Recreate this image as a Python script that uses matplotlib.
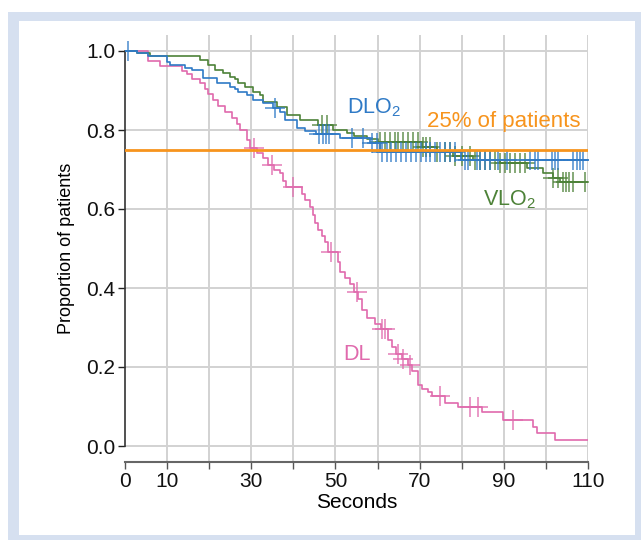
import numpy as np
import matplotlib
matplotlib.use("Agg")
import matplotlib.pyplot as plt
from matplotlib.patches import Rectangle

plt.rcParams['font.family'] = ['Liberation Sans', 'DejaVu Sans']
plt.rcParams['mathtext.default'] = 'regular'

# ---------------- data ----------------
# DL : step times (s) and proportion after each step
dl_t = [5.5, 8.3, 13.5, 14.7, 15.9, 17.8, 19.0, 19.7, 20.9, 22.1, 23.8, 25.4, 26.6, 27.3,
        29.0, 29.8, 31.4, 32.8, 34.0, 35.5, 36.8, 37.6, 38.2, 42.0, 42.8, 44.0, 44.7, 45.1,
        45.9, 46.8, 47.5, 48.2, 50.6, 51.1, 52.3, 53.4, 54.3, 55.4, 56.3, 57.5, 59.5, 60.8,
        62.5, 63.4, 64.3, 65.8, 67.3, 68.2, 69.6, 70.6, 72.0, 72.9, 76.0, 79.1, 84.8, 89.8,
        96.9, 97.9, 102.2]
dl_s = [0.975, 0.962, 0.95, 0.942, 0.93, 0.918, 0.905, 0.89, 0.875, 0.862, 0.845, 0.83, 0.815, 0.80,
        0.775, 0.755, 0.742, 0.728, 0.712, 0.70, 0.69, 0.672, 0.655, 0.638, 0.622, 0.604, 0.585, 0.565,
        0.548, 0.532, 0.516, 0.49, 0.465, 0.44, 0.425, 0.41, 0.39, 0.372, 0.345, 0.325, 0.31, 0.295,
        0.268, 0.25, 0.232, 0.22, 0.205, 0.19, 0.155, 0.145, 0.137, 0.126, 0.11, 0.10, 0.086, 0.066,
        0.048, 0.033, 0.015]
dl_cens = [30.7, 35.0, 40.0, 49.0, 55.0, 61.0, 61.8, 64.9, 66.0, 67.7, 74.8, 82.0, 83.9, 92.2]

# DLO2
dlo_t = [2.85, 5.5, 10.0, 10.7, 14.3, 15.9, 18.5, 21.9, 24.9, 26.1, 26.8, 29.0, 30.4, 32.8,
         35.2, 36.8, 38.0, 40.9, 42.8, 45.4, 51.0, 58.2, 60.6, 79.8]
dlo_s = [0.995, 0.987, 0.972, 0.965, 0.958, 0.952, 0.932, 0.92, 0.91, 0.903, 0.896, 0.889, 0.876, 0.868,
         0.856, 0.846, 0.825, 0.806, 0.798, 0.79, 0.78, 0.767, 0.745, 0.725]
dlo_cens = [0.7, 35.6, 46.0, 47.0, 47.8, 48.5, 54.0, 56.5, 58.7, 59.9, 61.0, 62.2, 63.3, 64.5,
            65.6, 66.8, 68.0, 69.2, 70.3, 71.4, 72.5, 73.7, 74.8, 76.0, 77.2, 78.4, 80.8, 81.6,
            83.6, 84.3, 85.5, 86.7, 88.6, 90.8, 96.2, 97.4, 98.1, 101.4, 102.2, 102.9, 106.4,
            107.4, 108.1, 108.8]

# VLO2
vlo_t = [2.85, 5.9, 17.8, 19.7, 21.4, 23.3, 24.9, 26.1, 26.8, 28.5, 30.4, 32.1, 32.8, 36.1,
         38.5, 41.6, 45.9, 49.4, 52.7, 54.5, 57.5, 60.0, 70.6, 74.1, 78.0, 82.7, 89.1, 95.5,
         99.3, 101.7, 103.3]
vlo_s = [0.995, 0.987, 0.977, 0.965, 0.952, 0.944, 0.934, 0.929, 0.918, 0.909, 0.896, 0.889, 0.871, 0.858,
         0.838, 0.825, 0.813, 0.80, 0.792, 0.785, 0.777, 0.77, 0.757, 0.744, 0.735, 0.724, 0.716, 0.704,
         0.69, 0.678, 0.668]
vlo_cens = [46.8, 48.0, 60.6, 61.8, 63.0, 64.1, 64.9, 66.0, 67.2, 68.4, 69.5, 70.8, 71.6, 72.5,
            74.1, 76.0, 77.2, 78.4, 80.1, 82.0, 83.2, 84.3, 85.5, 86.7, 87.9, 89.1, 90.3, 91.5,
            92.7, 93.8, 95.0, 101.7, 102.9, 104.0, 104.8, 105.5, 106.4, 109.2]

x_ticks = [0, 10, 20, 30, 40, 50, 60, 70, 80, 90, 100, 110]
x_labels = ['0', '10', '', '30', '', '50', '', '70', '', '90', '', '110']
y_ticks = [0.0, 0.2, 0.4, 0.6, 0.8, 1.0]
threshold = 0.75

c_dl = '#e06aad'
c_dlo = '#2f7ac6'
c_vlo = '#4d8238'
c_or = '#f7941d'

# ---------------- figure ----------------
fig = plt.figure(figsize=(6.41, 5.40), dpi=100)
fig.patches.append(Rectangle((8 / 641, 0), 1 - 8 / 641, 1 - 12 / 540, transform=fig.transFigure,
                             facecolor='#d6e0f0', edgecolor='none', zorder=-5))
fig.patches.append(Rectangle((19 / 641, 5 / 540), (635 - 19) / 641, (535 - 21) / 540,
                             transform=fig.transFigure, facecolor='white', edgecolor='none', zorder=-4))

ax = fig.add_axes([125 / 641, 1 - 462 / 540, (588 - 125) / 641, (462 - 35) / 540])
ax.set_facecolor('none')
ax.set_xlim(0, 110)
ax.set_ylim(-16 / 395, 1 + 16 / 395)


def km(times, surv, color, cens):
    tt = np.r_[0, times, 110]
    ss = np.r_[1.0, surv, surv[-1]]
    ax.step(tt, ss, where='post', color=color, lw=1.2, zorder=3)
    idx = np.searchsorted(tt, cens, side='right') - 1
    ax.plot(cens, ss[idx], ls='none', marker='+', ms=14, mew=1.2, color=color, alpha=0.8, zorder=3)


km(dl_t, dl_s, c_dl, dl_cens)
km(vlo_t, vlo_s, c_vlo, vlo_cens)
km(dlo_t, dlo_s, c_dlo, dlo_cens)

ax.axhline(threshold, color=c_or, lw=2.0, zorder=4)

# grid
for x in x_ticks[1:]:
    ax.axvline(x, color='#d2d2d2', lw=1.4, zorder=1)
for y in y_ticks:
    ax.axhline(y, color='#d2d2d2', lw=1.4, zorder=1)

for sp in ['top', 'right']:
    ax.spines[sp].set_visible(False)
ax.spines['left'].set_bounds(0, 1)
ax.spines['left'].set_color('#333333')
ax.spines['bottom'].set_color('#666666')
ax.spines['left'].set_linewidth(1.2)
ax.spines['bottom'].set_linewidth(1.5)

ax.set_xticks(x_ticks)
ax.set_xticklabels(x_labels)
ax.set_yticks(y_ticks)
ax.set_yticklabels(['%.1f' % v for v in y_ticks])
ax.tick_params(axis='both', labelsize=15, colors='#222222', length=5, width=1.0)
ax.tick_params(axis='x', colors='#555555', labelcolor='#111111', pad=2)
ax.tick_params(axis='y', labelcolor='#111111', pad=2)

ax.set_xlabel('Seconds', fontsize=15, labelpad=2)
ax.set_ylabel('Proportion of patients', fontsize=13, labelpad=8)

ax.text(52.7, 0.843, 'DLO$_2$', color=c_dlo, fontsize=15.5, va='baseline', zorder=5)
ax.text(71.8, 0.808, '25% of patients', color=c_or, fontsize=16, va='baseline', zorder=5)
ax.text(85.0, 0.61, 'VLO$_2$', color=c_vlo, fontsize=15.5, va='baseline', zorder=5)
ax.text(51.8, 0.218, 'DL', color=c_dl, fontsize=15.5, va='baseline', zorder=5)

fig.savefig('out.png', dpi=100)
